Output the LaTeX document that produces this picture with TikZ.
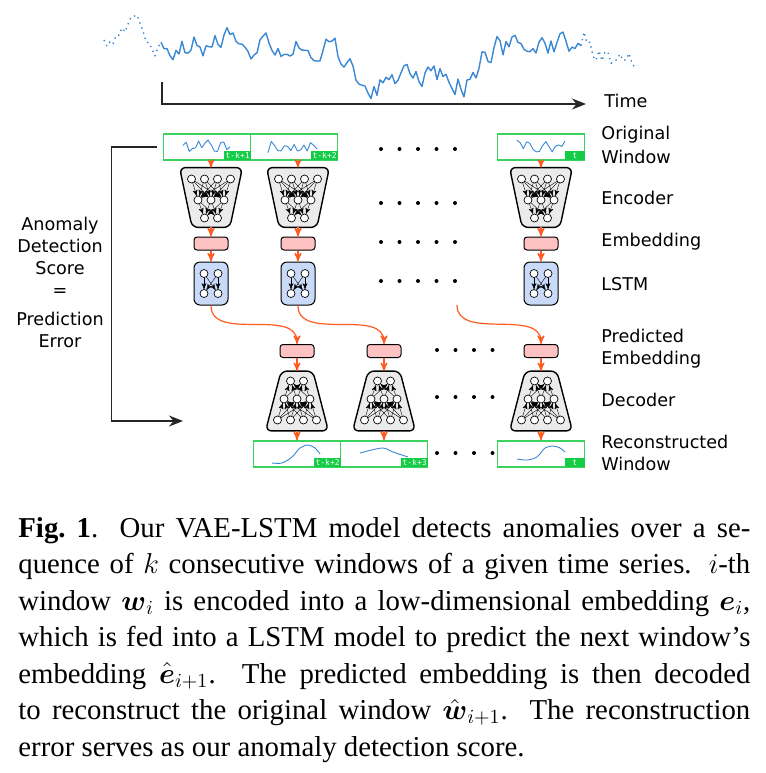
\documentclass[tikz,border=0pt]{standalone}
\usepackage{amsmath}
\usepackage{amssymb}
\usepackage{fontspec}
\setmainfont{Liberation Serif}
\newfontfamily\labelfont{DejaVu Sans}
\newfontfamily\tagfont{DejaVu Sans Mono}
\usetikzlibrary{arrows,arrows.meta,calc}

\definecolor{seriesblue}{HTML}{3A87D4}
\definecolor{wingreen}{HTML}{3AD35E}
\definecolor{taggreen}{HTML}{14CC45}
\definecolor{floworange}{HTML}{FF5A1F}
\definecolor{embpink}{HTML}{FFC2C2}
\definecolor{lstmblue}{HTML}{C9DAF8}
\definecolor{encgray}{HTML}{EBEBEB}

% random walk round tsbase, kept in \tspath
\newcommand\tswalk[3]{%
  \xdef\tspath{(#1,\ty)}%
  \foreach \x in {#2} {%
    \pgfmathsetmacro\tb{tsbase(\x)}%
    \pgfmathparse{\ty+0.3*(\tb-\ty)+#3*rand}%
    \xdef\ty{\pgfmathresult}%
    \xdef\tspath{\tspath -- (\x,\ty)}%
  }}

\tikzset{
  declare function={tsbase(\t)=ifthenelse(\t<161,30,ifthenelse(\t<336,40,ifthenelse(\t<479,80,
                    ifthenelse(\t<581,52-0.12*(\t-480),48))));},
  window/.style={draw=wingreen, line width=0.75pt, minimum width=43.5pt,
                 minimum height=13pt, inner sep=0pt},
  tag/.style={fill=taggreen, text=white, font=\tagfont\fontsize{4}{4.5}\selectfont,
              inner xsep=0.6pt, inner ysep=0pt, minimum height=4.5pt, anchor=south east},
  netbox/.style={minimum width=31pt, minimum height=29.5pt, inner sep=0pt},
  netbody/.style={draw, fill=encgray, line width=0.7pt, rounded corners=3pt},
  embed/.style={draw, fill=embpink, rounded corners=1.5pt, minimum width=17pt,
                minimum height=6.5pt, inner sep=0pt, line width=0.5pt},
  lstmbox/.style={draw, fill=lstmblue, rounded corners=3pt, minimum width=17pt,
                  minimum height=21.5pt, inner sep=0pt, line width=0.5pt},
  neuron/.style={circle, draw, fill=white, inner sep=0pt, minimum size=4pt, line width=0.35pt},
  link/.style={->, line width=0.2pt},
  flow/.style={->, draw=floworange, line width=0.6pt},
  bigarrow/.style={-{Stealth[length=7pt,width=5.5pt]}, line width=0.7pt, draw=black!85},
  rowlabel/.style={font=\labelfont\fontsize{8.8}{11}\selectfont, anchor=west,
                   inner sep=0pt, align=left},
  tsline/.style={draw=seriesblue, line width=0.7pt, line join=round},
  winline/.style={draw=seriesblue, line width=0.45pt, line join=round}
}

\begin{document}
\begin{tikzpicture}[x=0.5pt,y=-0.5pt,>=stealth']
  \useasboundingbox (0,0) rectangle (766,773);

  % time series on top
  \pgfmathsetseed{11}
  \xdef\ty{40}
  \tswalk{104}{107,110,...,161}{14}
  \edef\tsdraw{\noexpand\draw[tsline, dotted] \tspath;}\tsdraw
  \tswalk{161}{164,167,...,581}{12}
  \edef\tsdraw{\noexpand\draw[tsline] \tspath;}\tsdraw
  \tswalk{581}{584,587,...,636}{15}
  \edef\tsdraw{\noexpand\draw[tsline, dotted] \tspath;}\tsdraw

  \coordinate (t0) at (162,82);
  \coordinate (t1) at (586,104);
  \draw[bigarrow] (t0) |- (t1);
  \node[rowlabel] (time) at (604,101) {Time};

  % original windows
  \node[window] (ow1) at (207,147) {};
  \node[window] (ow2) at (294,147) {};
  \node[window] (ow3) at (541,147) {};
  \node[tag] (tg1) at (ow1.south east) {t-k+1};
  \node[tag] (tg2) at (ow2.south east) {t-k+2};
  \node[tag, minimum width=10pt] (tg3) at (ow3.south east) {t};
  \draw[winline] plot[domain=183:230, samples=16] (\x,{146+6*rand});
  \draw[winline] plot[domain=268:317, samples=16] (\x,{147+6*rand});
  \draw[winline] plot[domain=517:565, samples=16] (\x,{146+6*rand});

  % encoder, embedding, lstm
  \foreach \c/\x in {1/211,2/298,3/541} {
    \node[netbox] (enc\c) at (\x,197.5) {};
    \draw[netbody] (enc\c.north west) -- (enc\c.north east)
      -- ([xshift=-6.25pt]enc\c.south east) -- ([xshift=6.25pt]enc\c.south west) -- cycle;
    \node[embed] (emb\c) at (\x,243.5) {};
    \node[lstmbox] (lstm\c) at (\x,283.5) {};
    \foreach \i/\dx in {1/-19.5,2/-6.5,3/6.5,4/19.5}
      \node[neuron] (ea\c\i) at ($(enc\c)+(\dx,-18.5)$) {};
    \foreach \i/\dx in {1/-13,2/0,3/13}
      \node[neuron] (eb\c\i) at ($(enc\c)+(\dx,2.5)$) {};
    \foreach \i/\dx in {1/-6.5,2/6.5}
      \node[neuron] (ec\c\i) at ($(enc\c)+(\dx,20.5)$) {};
    \foreach \i in {1,...,4} \foreach \j in {1,2,3}
      \draw[link] (ea\c\i) -- (eb\c\j);
    \foreach \i in {1,2,3} \foreach \j in {1,2}
      \draw[link] (eb\c\i) -- (ec\c\j);
    \foreach \i/\dx in {1/-7,2/7} {
      \node[neuron] (la\c\i) at ($(lstm\c)+(\dx,-10)$) {};
      \node[neuron] (lb\c\i) at ($(lstm\c)+(\dx,10)$) {};
    }
    \foreach \i in {1,2} \foreach \j in {1,2}
      \draw[link] (la\c\i) -- (lb\c\j);
    \draw[flow] (enc\c.north |- ow\c.south) -- (enc\c.north);
    \draw[flow] (enc\c.south) -- (emb\c.north);
    \draw[flow] (emb\c.south) -- (lstm\c.north);
  }

  % predicted embedding, decoder, reconstructed windows
  \foreach \c/\x in {1/297,2/384,3/541} {
    \node[embed] (pemb\c) at (\x,351) {};
    \node[netbox] (dec\c) at (\x,401) {};
    \draw[netbody] ([xshift=7.75pt]dec\c.north west) -- ([xshift=-7.75pt]dec\c.north east)
      -- (dec\c.south east) -- (dec\c.south west) -- cycle;
    \node[window] (rw\c) at (\x,454) {};
    \foreach \i/\dx in {1/-19.5,2/-6.5,3/6.5,4/19.5}
      \node[neuron] (da\c\i) at ($(dec\c)+(\dx,19)$) {};
    \foreach \i/\dx in {1/-13,2/0,3/13}
      \node[neuron] (db\c\i) at ($(dec\c)+(\dx,-2)$) {};
    \foreach \i/\dx in {1/-6.5,2/6.5}
      \node[neuron] (dc\c\i) at ($(dec\c)+(\dx,-20)$) {};
    \foreach \i in {1,...,4} \foreach \j in {1,2,3}
      \draw[link] (da\c\i) -- (db\c\j);
    \foreach \i in {1,2,3} \foreach \j in {1,2}
      \draw[link] (db\c\i) -- (dc\c\j);
    \draw[flow] (pemb\c.south) -- (dec\c.north);
    \draw[flow] (dec\c.south) -- (dec\c.south |- rw\c.north);
  }
  \node[tag] (tr1) at (rw1.south east) {t-k+2};
  \node[tag] (tr2) at (rw2.south east) {t-k+3};
  \node[tag, minimum width=10pt] (tr3) at (rw3.south east) {t};
  \draw[winline] plot[smooth] coordinates {(272,463) (282,463) (292,457) (300,448) (308,445) (315,448) (320,454)};
  \draw[winline] plot[smooth] coordinates {(360,453) (382,448) (393,452) (408,457)};
  \draw[winline] plot[smooth] coordinates {(517,459) (527,460) (537,457) (545,448) (553,446) (560,448) (565,452)};

  % lstm outputs to the next embedding
  \coordinate (lstmgap) at (457,305);
  \draw[flow] (lstm1.south) to[out=-90,in=90] (pemb1.north);
  \draw[flow] (lstm2.south) to[out=-90,in=90] (pemb2.north);
  \draw[flow] (lstmgap) to[out=-90,in=90] (pemb3.north);

  % dots
  \foreach \y in {149,203,242,281}
    \foreach \x in {381,399.5,418,436.5,455}
      \fill (\x,\y) circle (1pt);
  \foreach \y in {350,397,453}
    \foreach \x in {437,455.5,474,492.5}
      \fill (\x,\y) circle (1pt);

  % feedback
  \coordinate (fbend) at (183,421);
  \draw[bigarrow] ([xshift=-3pt]ow1.west) -- ++(-45,0) |- (fbend);
  \node[font=\labelfont\fontsize{8.8}{11}\selectfont, align=center, inner sep=0pt] (score)
    at (60,282) {Anomaly\\Detection\\Score\\=\\[3.5pt]Prediction\\Error};

  % row labels
  \node[rowlabel] (lorig) at (601,145) {Original\\[1pt]Window};
  \node[rowlabel] (lenc) at (601,198) {Encoder};
  \node[rowlabel] (lemb) at (601,242) {Embedding};
  \node[rowlabel] (llstm) at (601,284) {LSTM};
  \node[rowlabel] (lpemb) at (601,349) {Predicted\\Embedding};
  \node[rowlabel] (ldec) at (601,400) {Decoder};
  \node[rowlabel] (lrec) at (601,453) {Reconstructed\\Window};

  % caption
  \node[anchor=base west, text width=366pt, inner sep=0pt, align=justify,
        font=\fontsize{14.4}{18.25}\selectfont] (caption) at (18,537) {%
    \textbf{Fig.\ 1}. Our VAE-LSTM model detects anomalies over a se-\linebreak
    quence of $k$ consecutive windows of a given time series. $i$-th\linebreak
    window $\boldsymbol{w}_i$ is encoded into a low-dimensional embedding $\boldsymbol{e}_i$,\linebreak
    which is fed into a LSTM model to predict the next window's\linebreak
    embedding $\hat{\boldsymbol{e}}_{i+1}$. The predicted embedding is then decoded\linebreak
    to reconstruct the original window $\hat{\boldsymbol{w}}_{i+1}$. The reconstruction\linebreak
    error serves as our anomaly detection score.};
\end{tikzpicture}
\end{document}
